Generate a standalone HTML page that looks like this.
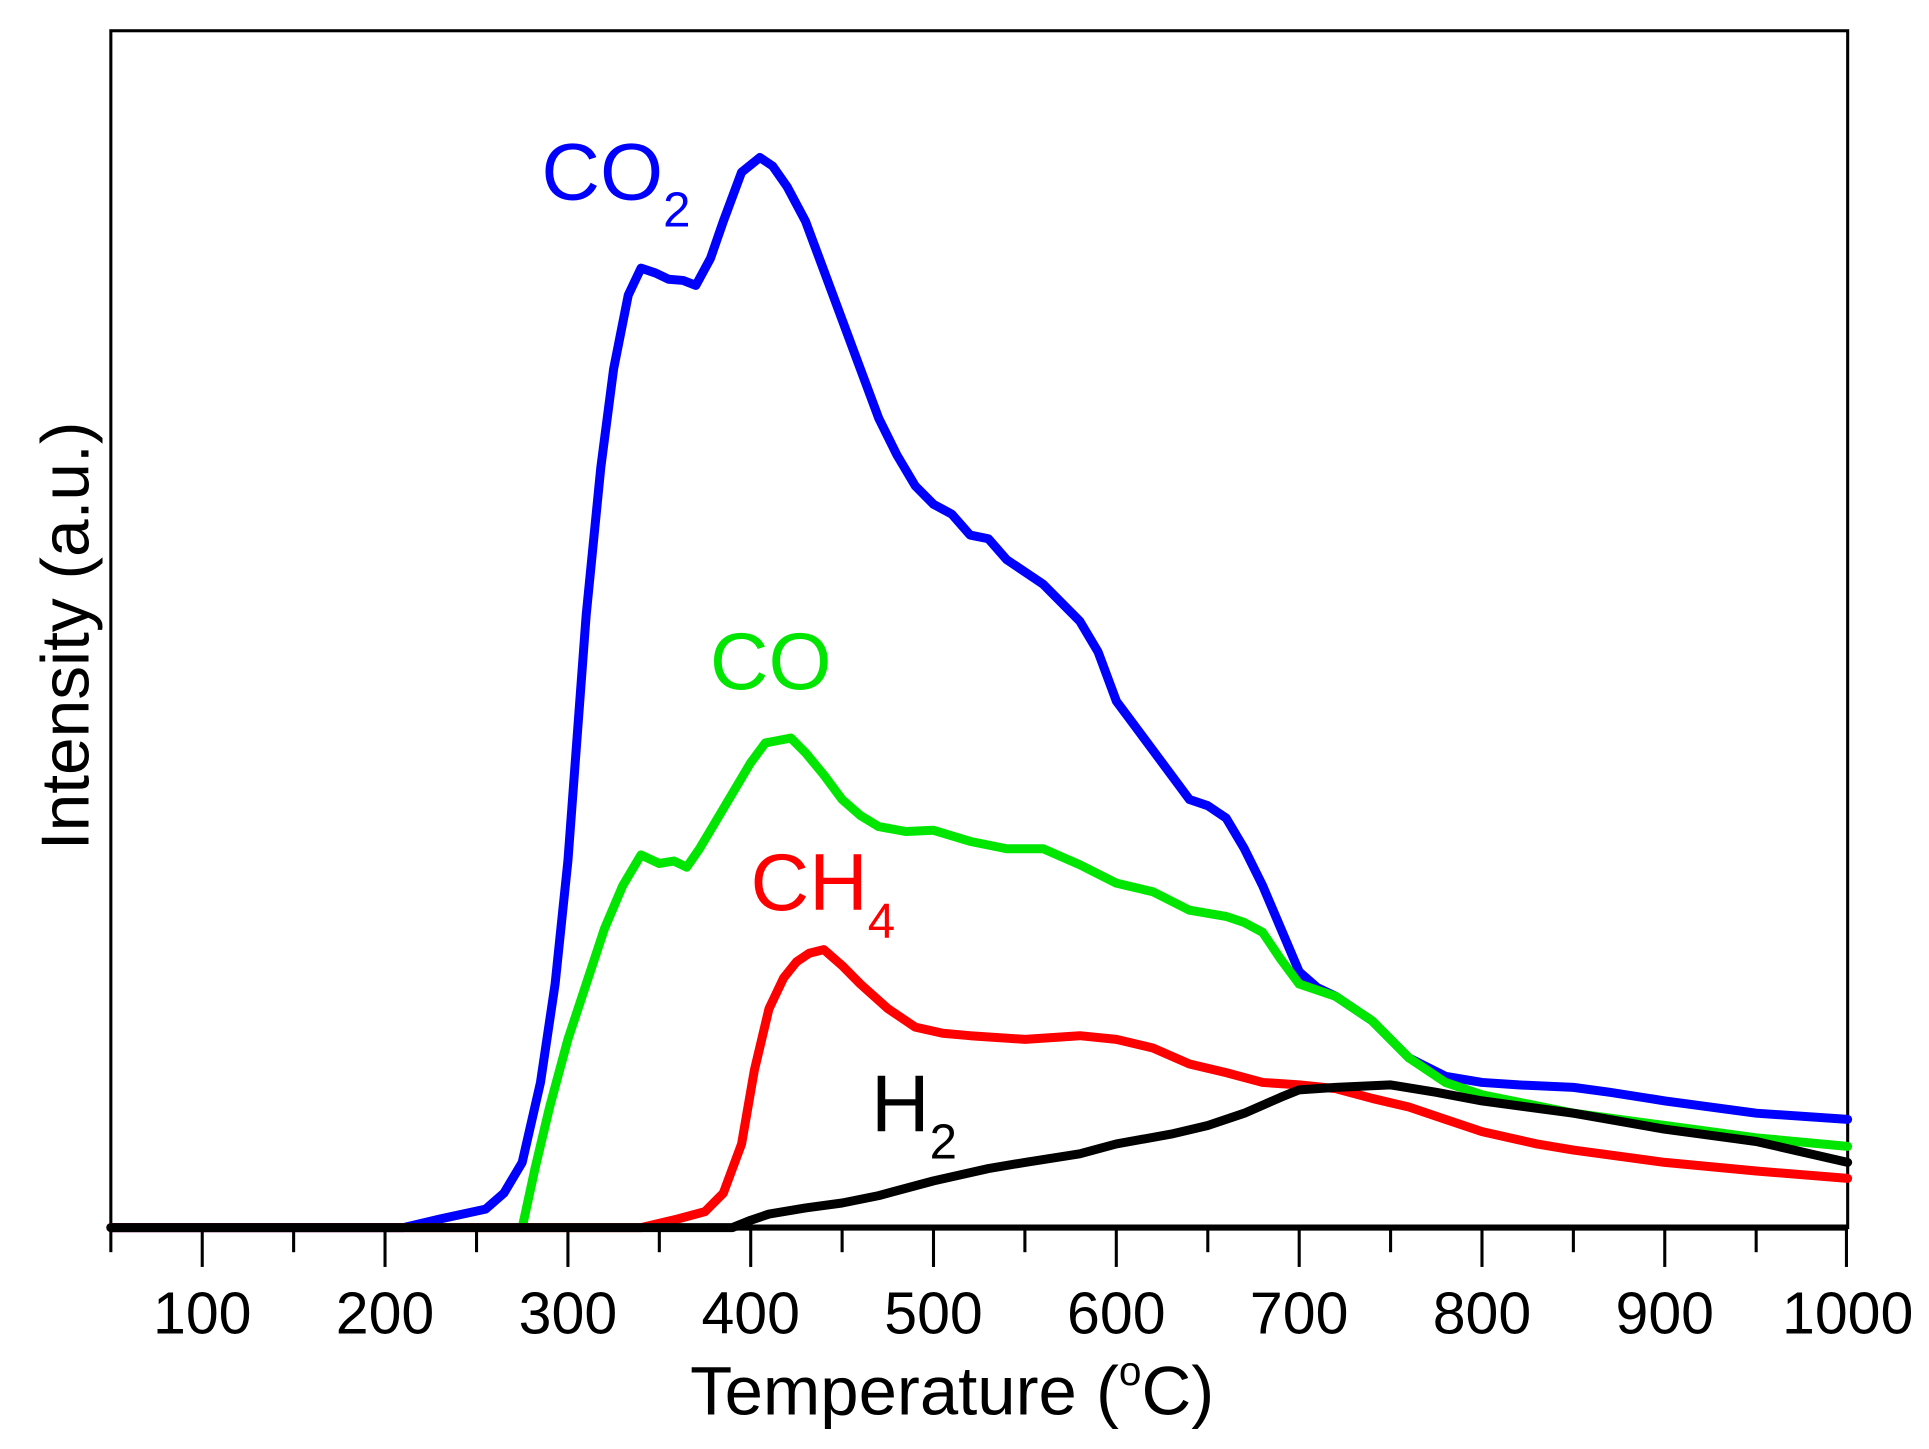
<!DOCTYPE html>
<html><head><meta charset="utf-8"><style>html,body{margin:0;padding:0;background:#fff}svg{display:block}</style></head>
<body>
<svg width="1929" height="1449" viewBox="0 0 1568 1178" xmlns="http://www.w3.org/2000/svg" font-family="Liberation Sans, Arial, sans-serif">
<rect x="90" y="25" width="1412" height="973" fill="none" stroke="#000" stroke-width="2.5"/>
<g transform="translate(90 0) scale(1.4863 1) translate(-50 0)" fill="none" stroke-width="9" stroke-linejoin="round" stroke-linecap="round">
<polyline vector-effect="non-scaling-stroke" stroke="#0000ff" points="50,998 210,998 230,991 255,983 265,970 275,945 285,880 293,800 300,700 310,500 318,380 325,300 333,240 340,218 348,222 355,227 363,228 370,232 378,210 385,180 395,140 405,128 412,135 420,152 430,180 440,220 450,260 460,300 470,340 480,370 490,395 500,410 510,418 520,435 530,438 540,455 560,475 580,505 590,530 600,570 610,590 620,610 630,630 640,650 650,655 660,665 670,690 680,720 690,755 700,790 710,803 720,810 740,830 760,860 780,875 800,880 820,882 850,884 870,888 900,895 950,905 1000,910"/>
<polyline vector-effect="non-scaling-stroke" stroke="#00e600" points="275,998 282,950 290,900 300,845 310,800 320,755 330,720 340,695 350,702 358,700 365,705 372,690 380,670 390,645 400,620 408,604 415,602 422,600 430,612 440,630 450,650 460,663 470,672 485,676 500,675 520,684 540,690 560,690 580,703 600,718 620,725 640,740 660,745 670,750 680,758 690,780 700,800 720,810 740,830 760,860 780,880 800,890 850,905 900,915 950,925 1000,932"/>
<polyline vector-effect="non-scaling-stroke" stroke="#ff0000" points="50,998 340,998 360,991 375,985 385,970 395,930 402,870 410,820 418,795 425,782 432,775 440,772 450,785 460,800 475,820 490,835 505,840 520,842 550,845 580,842 600,845 620,852 640,865 660,872 680,880 700,882 720,885 740,893 760,900 780,910 800,920 830,930 850,935 900,945 950,952 1000,958"/>
<polyline vector-effect="non-scaling-stroke" stroke="#000" points="50,998 390,998 400,992 410,987 430,982 450,978 470,972 500,960 530,950 550,945 580,938 600,930 630,922 650,915 670,905 690,892 700,886 720,884 750,882 775,888 800,895 850,905 900,918 950,928 1000,945"/>
</g>
<line x1="90" y1="998" x2="1502" y2="998" stroke="#000" stroke-width="5"/>
<g stroke="#000" stroke-width="2.5">
<line x1="90" y1="998" x2="90" y2="1018"/>
<line x1="164.3" y1="998" x2="164.3" y2="1030"/><line x1="238.6" y1="998" x2="238.6" y2="1018"/>
<line x1="312.9" y1="998" x2="312.9" y2="1030"/><line x1="387.3" y1="998" x2="387.3" y2="1018"/>
<line x1="461.6" y1="998" x2="461.6" y2="1030"/><line x1="535.9" y1="998" x2="535.9" y2="1018"/>
<line x1="610.2" y1="998" x2="610.2" y2="1030"/><line x1="684.5" y1="998" x2="684.5" y2="1018"/>
<line x1="758.8" y1="998" x2="758.8" y2="1030"/><line x1="833.1" y1="998" x2="833.1" y2="1018"/>
<line x1="907.4" y1="998" x2="907.4" y2="1030"/><line x1="981.8" y1="998" x2="981.8" y2="1018"/>
<line x1="1056.1" y1="998" x2="1056.1" y2="1030"/><line x1="1130.4" y1="998" x2="1130.4" y2="1018"/>
<line x1="1204.7" y1="998" x2="1204.7" y2="1030"/><line x1="1279" y1="998" x2="1279" y2="1018"/>
<line x1="1353.3" y1="998" x2="1353.3" y2="1030"/><line x1="1427.6" y1="998" x2="1427.6" y2="1018"/>
<line x1="1501" y1="998" x2="1501" y2="1030"/>
</g>
<g font-size="48" text-anchor="middle" fill="#000">
<text x="164.3" y="1084">100</text><text x="312.9" y="1084">200</text><text x="461.6" y="1084">300</text>
<text x="610.2" y="1084">400</text><text x="758.8" y="1084">500</text><text x="907.4" y="1084">600</text>
<text x="1056.1" y="1084">700</text><text x="1204.7" y="1084">800</text><text x="1353.3" y="1084">900</text>
<text x="1502" y="1084">1000</text>
</g>
<text x="774" y="1150" font-size="56" text-anchor="middle">Temperature (<tspan font-size="33" dy="-24">o</tspan><tspan dy="24">C)</tspan></text>
<text transform="translate(72 517) rotate(-90)" font-size="55" text-anchor="middle">Intensity (a.u.)</text>
<text x="440" y="162" font-size="66" fill="#0000ff">CO<tspan font-size="40" dy="22">2</tspan></text>
<text x="577" y="560" font-size="66" fill="#00e600">CO</text>
<text x="610" y="740" font-size="66" fill="#ff0000">CH<tspan font-size="40" dy="22">4</tspan></text>
<text x="708" y="920" font-size="66" fill="#000">H<tspan font-size="40" dy="22">2</tspan></text>
</svg>
</body></html>
